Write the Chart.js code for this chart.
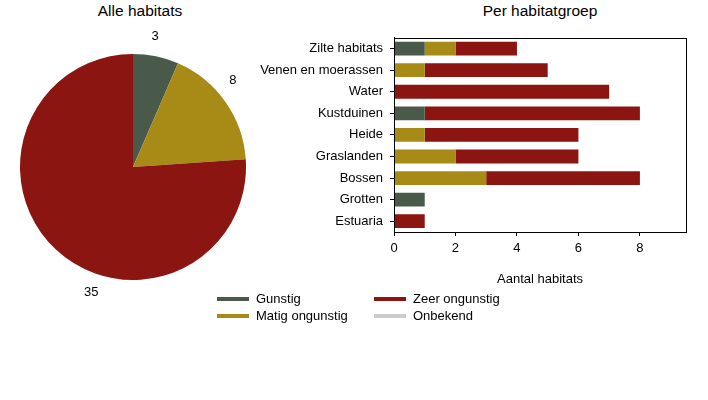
<!DOCTYPE html>
<html>
<head>
<meta charset="utf-8">
<script src="https://cdn.jsdelivr.net/npm/chart.js@4"></script>
<style>
  html, body { margin: 0; padding: 0; background: #fff; }
  #wrap { position: relative; width: 708px; height: 400px; overflow: hidden;
          font-family: "Liberation Sans", Arial, sans-serif; color: #000; }
  .title { position: absolute; top: 2px; font-size: 15.5px; white-space: nowrap; transform: translateX(-50%); }
  #pieBox { position: absolute; left: 0; top: 14px; width: 266px; height: 306px; }
  #barBox { position: absolute; left: 240px; top: 23px; width: 468px; height: 267px; }
  #legend { position: absolute; left: 217px; top: 290px; display: grid;
            grid-template-columns: 157px auto; grid-template-rows: repeat(2, 17px);
            grid-auto-flow: column; font-size: 13px; }
  .item { display: flex; align-items: center; white-space: nowrap; }
  .sw { width: 32px; height: 4px; margin-right: 7px; }
</style>
</head>
<body>
<div id="wrap">
  <div class="title" style="left:140px">Alle habitats</div>
  <div class="title" style="left:540px">Per habitatgroep</div>
  <div id="pieBox"><canvas id="pie"></canvas></div>
  <div id="barBox"><canvas id="bar"></canvas></div>
  <div id="legend"></div>
</div>
<script>
// ---- data ----
const statusLabels = ['Gunstig', 'Matig ongunstig', 'Zeer ongunstig', 'Onbekend'];
const statusColors = ['#4a5a4a', '#a88a17', '#8b1510', '#cccccc'];
const pieValues = [3, 8, 35];
const groups = ['Zilte habitats', 'Venen en moerassen', 'Water', 'Kustduinen', 'Heide',
                'Graslanden', 'Bossen', 'Grotten', 'Estuaria'];
const gunstig = [1, 0, 0, 1, 0, 0, 0, 1, 0];
const matig   = [1, 1, 0, 0, 1, 2, 3, 0, 0];
const zeer    = [2, 4, 7, 7, 5, 4, 5, 0, 1];
const onbekend= [0, 0, 0, 0, 0, 0, 0, 0, 0];
const xTicks = [0, 2, 4, 6, 8];
const xAxisTitle = 'Aantal habitats';

Chart.defaults.font.family = '"Liberation Sans", Arial, sans-serif';
Chart.defaults.color = '#000';
Chart.defaults.animation = false;

// ---- legend ----
const legend = document.getElementById('legend');
statusLabels.forEach((lab, i) => {
  const d = document.createElement('div');
  d.className = 'item';
  d.innerHTML = '<span class="sw" style="background:' + statusColors[i] + '"></span><span></span>';
  d.lastChild.textContent = lab;
  legend.appendChild(d);
});

// ---- pie ----
const pieLabelPlugin = {
  id: 'pieLabels',
  afterDatasetsDraw(chart) {
    const ctx = chart.ctx;
    const meta = chart.getDatasetMeta(0);
    ctx.save();
    ctx.font = '13px "Liberation Sans", Arial, sans-serif';
    ctx.fillStyle = '#000';
    ctx.textAlign = 'center';
    ctx.textBaseline = 'middle';
    meta.data.forEach((arc, i) => {
      const p = arc.getProps(['x', 'y', 'startAngle', 'endAngle', 'outerRadius'], true);
      const a = p.startAngle + (p.endAngle - p.startAngle) * 0.41;
      const r = p.outerRadius + 19;
      ctx.fillText(String(chart.data.datasets[0].data[i]), p.x + Math.cos(a) * r, p.y + Math.sin(a) * r);
    });
    ctx.restore();
  }
};

new Chart(document.getElementById('pie'), {
  type: 'pie',
  data: {
    labels: statusLabels.slice(0, 3),
    datasets: [{ data: pieValues, backgroundColor: statusColors.slice(0, 3), borderWidth: 0 }]
  },
  options: {
    responsive: true, maintainAspectRatio: false,
    layout: { padding: { top: 40, bottom: 40, left: 20, right: 20 } },
    plugins: { legend: { display: false }, tooltip: { enabled: false } }
  },
  plugins: [pieLabelPlugin]
});

// ---- bars ----
const boxPlugin = {
  id: 'box',
  afterDraw(chart) {
    const a = chart.chartArea, ctx = chart.ctx;
    ctx.save();
    ctx.strokeStyle = '#000';
    ctx.lineWidth = 1;
    ctx.strokeRect(Math.round(a.left) + 0.5, Math.round(a.top) + 0.5,
                   Math.round(a.right - a.left), Math.round(a.bottom - a.top));
    ctx.restore();
  }
};

const series = [gunstig, matig, zeer, onbekend];
new Chart(document.getElementById('bar'), {
  type: 'bar',
  data: {
    labels: groups,
    datasets: series.map((vals, i) => ({
      label: statusLabels[i], data: vals, backgroundColor: statusColors[i],
      borderWidth: 0, categoryPercentage: 1, barPercentage: 0.64
    }))
  },
  options: {
    indexAxis: 'y',
    responsive: true, maintainAspectRatio: false,
    layout: { padding: { top: 7, right: 22, left: 0, bottom: 0 } },
    plugins: { legend: { display: false }, tooltip: { enabled: false } },
    scales: {
      x: {
        stacked: true, min: 0, max: 9.5,
        afterBuildTicks(s) { s.ticks = xTicks.map(v => ({ value: v })); },
        ticks: { color: '#000', font: { size: 13 }, padding: 5, maxRotation: 0 },
        grid: { display: true, drawOnChartArea: false, tickLength: 4, color: '#000' },
        border: { display: true, color: '#000' },
        title: { display: true, text: xAxisTitle, color: '#000', font: { size: 13 }, padding: { top: 0, bottom: 3 } },
        afterFit(s) { s.height = 58; }
      },
      y: {
        stacked: true,
        ticks: { color: '#000', font: { size: 13 }, padding: 7, autoSkip: false },
        grid: { display: true, drawOnChartArea: false, offset: false, tickLength: 4, color: '#000' },
        border: { display: true, color: '#000' },
        afterFit(s) { s.width = 154; }
      }
    }
  },
  plugins: [boxPlugin]
});
</script>
</body>
</html>
